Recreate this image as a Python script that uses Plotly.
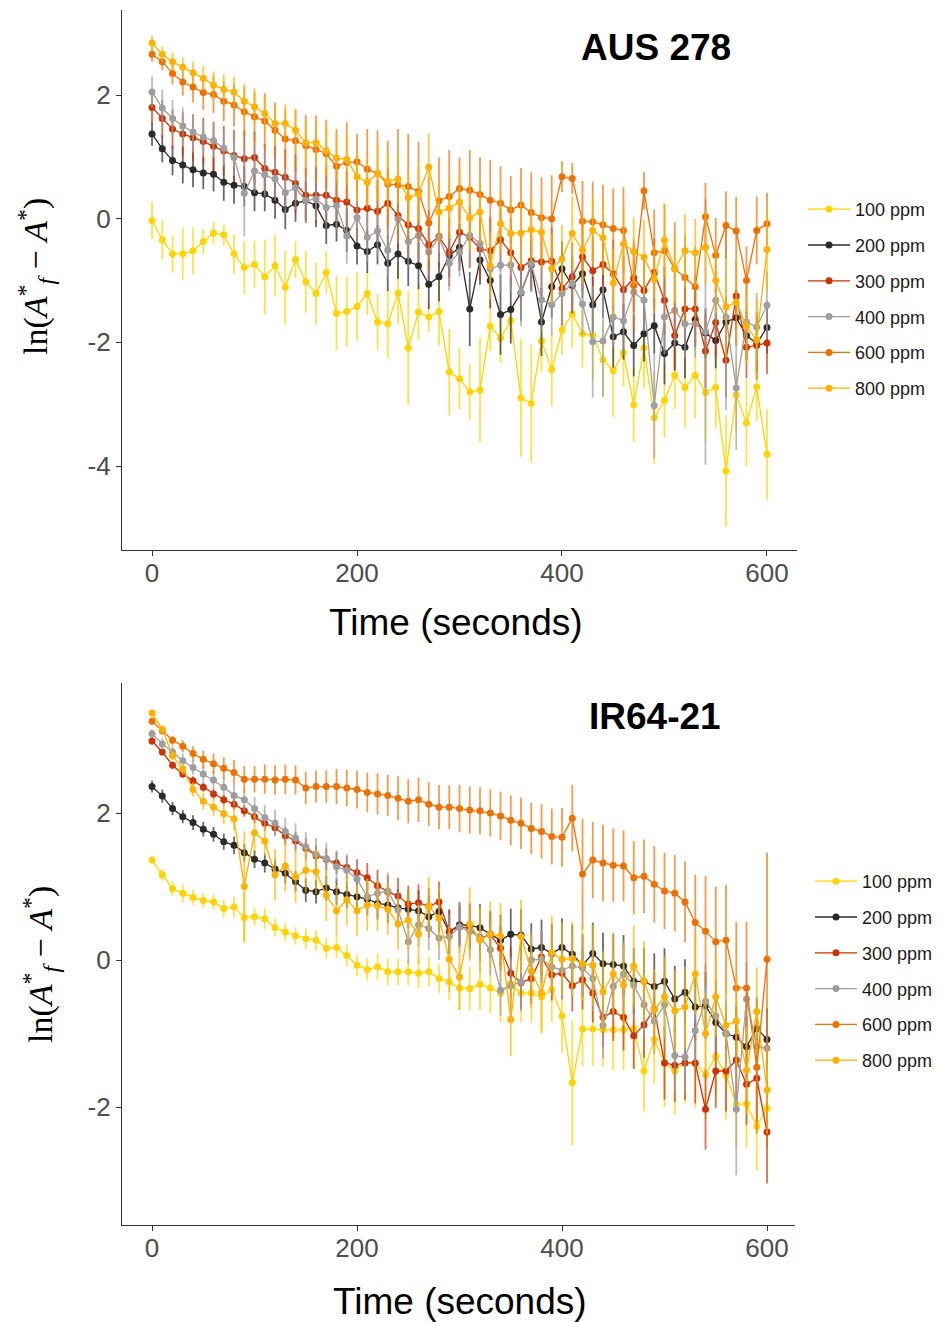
import plotly.graph_objects as go

# ---------------- data ----------------
time_s = list(range(0, 601, 10))
series_names = ["100 ppm", "200 ppm", "300 ppm", "400 ppm", "600 ppm", "800 ppm"]

# AUS 278 (top panel)
top100 = [-0.03, -0.34, -0.57, -0.57, -0.52, -0.37, -0.23, -0.26, -0.57, -0.79,
          -0.74, -0.94, -0.76, -1.11, -0.66, -1.02, -1.21, -0.87, -1.53, -1.50,
          -1.42, -1.21, -1.67, -1.70, -1.20, -2.09, -1.51, -1.59, -1.50, -2.48,
          -2.59, -2.80, -2.77, -1.74, -1.93, -1.65, -2.90, -2.99, -1.98, -2.44,
          -1.80, -1.54, -1.86, -1.89, -2.28, -2.46, -2.17, -3.01, -2.09, -3.22,
          -2.94, -2.53, -2.73, -2.53, -2.81, -2.73, -4.08, -2.85, -3.30, -2.72,
          -3.81]
top200 = [1.37, 1.13, 0.94, 0.87, 0.79, 0.74, 0.72, 0.59, 0.54, 0.52,
          0.42, 0.40, 0.30, 0.15, 0.25, 0.29, 0.21, -0.11, -0.09, -0.19,
          -0.44, -0.53, -0.42, -0.72, -0.57, -0.69, -0.76, -1.06, -0.94, -0.60,
          -0.46, -1.46, -0.67, -1.00, -1.55, -1.47, -1.20, -0.75, -1.67, -1.10,
          -0.81, -1.08, -0.89, -1.39, -1.15, -1.91, -1.83, -2.05, -1.86, -1.73,
          -2.18, -2.01, -2.08, -1.63, -1.85, -1.97, -1.67, -1.60, -1.89, -2.02,
          -1.76]
top300 = [1.80, 1.62, 1.45, 1.37, 1.31, 1.25, 1.17, 1.10, 1.02, 0.97,
          0.99, 0.81, 0.75, 0.67, 0.57, 0.38, 0.38, 0.38, 0.30, 0.27,
          0.14, 0.17, 0.12, 0.25, 0.05, -0.10, -0.16, -0.42, -0.29, -0.54,
          -0.22, -0.30, -0.49, -0.52, -0.34, -0.55, -0.79, -0.68, -0.70, -0.69,
          -1.13, -0.94, -0.62, -0.84, -0.74, -0.89, -1.15, -0.96, -1.16, -0.87,
          -1.32, -1.89, -1.46, -1.46, -2.14, -1.68, -2.29, -1.25, -2.08, -2.05,
          -2.01]
top400 = [2.05, 1.79, 1.62, 1.50, 1.40, 1.32, 1.26, 1.14, 0.99, 0.41,
          0.77, 0.71, 0.64, 0.42, 0.50, 0.29, 0.32, 0.18, 0.21, -0.28,
          0.02, -0.30, -0.20, -0.51, 0.00, -0.37, -0.27, -0.54, -0.30, -0.72,
          -0.54, -0.27, -0.40, -0.81, -0.75, -0.75, -1.19, -0.73, -1.31, -1.39,
          -1.21, -1.05, -1.38, -1.99, -1.98, -1.59, -1.65, -1.19, -1.32, -3.02,
          -1.59, -1.48, -1.70, -1.70, -1.83, -1.32, -1.59, -2.74, -1.67, -1.75,
          -1.40]
top600 = [2.66, 2.54, 2.35, 2.21, 2.13, 2.04, 2.01, 1.90, 1.84, 1.73,
          1.65, 1.58, 1.43, 1.29, 1.26, 1.18, 1.12, 1.05, 0.85, 0.91,
          0.92, 0.80, 0.73, 0.56, 0.55, 0.52, 0.44, -0.07, 0.29, 0.36,
          0.49, 0.46, 0.39, 0.30, 0.25, 0.14, 0.22, 0.10, 0.02, 0.00,
          0.68, 0.65, -0.04, -0.05, -0.10, -0.16, -0.19, -1.08, 0.45, -0.55,
          -0.52, -0.81, -0.95, -1.10, 0.03, -0.59, -0.11, -0.20, -1.00, -0.19,
          -0.08]
top800 = [2.84, 2.66, 2.54, 2.45, 2.36, 2.27, 2.16, 2.09, 2.05, 1.90,
          1.81, 1.70, 1.54, 1.54, 1.43, 1.23, 1.23, 1.10, 0.98, 0.96,
          0.68, 0.59, 0.73, 0.60, 0.64, 0.34, 0.40, 0.83, 0.11, 0.17,
          0.27, 0.01, 0.11, -0.76, -0.08, -0.24, -0.23, -0.18, -0.22, -0.81,
          -0.65, -0.24, -0.51, -0.19, -0.31, -1.04, -0.41, -0.53, -0.62, -0.98,
          -0.35, -0.81, -0.52, -0.55, -0.46, -1.00, -1.43, -1.35, -1.74, -1.96,
          -0.50]

top100_err = [0.30, 0.32, 0.30, 0.42, 0.38, 0.20, 0.18, 0.17, 0.32, 0.43,
              0.38, 0.60, 0.50, 0.60, 0.30, 0.50, 0.50, 0.34, 0.60, 0.56,
              0.55, 0.35, 0.45, 0.55, 0.50, 0.92, 0.45, 0.25, 0.55, 0.70,
              0.50, 0.45, 0.85, 0.40, 0.40, 0.30, 0.95, 0.95, 0.50, 0.60,
              0.40, 0.55, 0.55, 0.70, 0.60, 0.75, 0.55, 0.60, 0.65, 0.75,
              0.60, 0.55, 0.65, 0.70, 0.80, 0.65, 0.90, 0.60, 0.70, 0.55,
              0.73]
top200_err = [0.19, 0.22, 0.24, 0.30, 0.28, 0.26, 0.28, 0.30, 0.30, 0.32,
              0.30, 0.28, 0.30, 0.32, 0.30, 0.32, 0.35, 0.30, 0.28, 0.35,
              0.30, 0.35, 0.32, 0.45, 0.40, 0.40, 0.38, 0.40, 0.40, 0.35,
              0.38, 0.60, 0.40, 0.45, 0.65, 0.55, 0.45, 0.40, 0.55, 0.50,
              0.45, 0.45, 0.40, 0.45, 0.45, 0.50, 0.45, 0.50, 0.45, 0.45,
              0.50, 0.45, 0.50, 0.45, 0.40, 0.45, 0.40, 0.45, 0.40, 0.45,
              0.42]
top300_err = [0.27, 0.30, 0.32, 0.35, 0.38, 0.38, 0.40, 0.40, 0.42, 0.45,
              0.42, 0.40, 0.42, 0.45, 0.48, 0.45, 0.45, 0.45, 0.48, 0.50,
              0.50, 0.50, 0.50, 0.55, 0.55, 0.55, 0.50, 0.55, 0.50, 0.55,
              0.50, 0.50, 0.50, 0.55, 0.50, 0.55, 0.55, 0.50, 0.55, 0.55,
              0.60, 0.55, 0.55, 0.55, 0.50, 0.55, 0.55, 0.55, 0.50, 0.55,
              0.55, 0.55, 0.50, 0.55, 0.60, 0.55, 0.60, 0.55, 0.50, 0.55,
              0.50]
top400_err = [0.25, 0.30, 0.30, 0.30, 0.28, 0.28, 0.28, 0.30, 0.30, 0.70,
              0.35, 0.35, 0.35, 0.35, 0.35, 0.35, 0.35, 0.35, 0.40, 0.45,
              0.40, 0.40, 0.40, 0.45, 0.40, 0.40, 0.40, 0.40, 0.40, 0.45,
              0.40, 0.40, 0.40, 0.45, 0.45, 0.45, 0.55, 0.45, 0.50, 0.50,
              0.50, 0.45, 0.50, 0.90, 0.90, 0.50, 0.55, 0.55, 0.50, 0.85,
              0.60, 0.60, 0.55, 0.55, 2.15, 0.60, 1.50, 1.00, 0.60, 0.55,
              0.55]
top600_err = [0.12, 0.14, 0.18, 0.22, 0.25, 0.28, 0.30, 0.32, 0.35, 0.40,
              0.40, 0.45, 0.45, 0.48, 0.50, 0.50, 0.55, 0.55, 0.60, 0.65,
              0.45, 0.65, 0.70, 0.70, 0.90, 0.85, 0.80, 0.75, 0.70, 0.75,
              0.50, 0.65, 0.60, 0.65, 0.60, 0.55, 0.60, 0.65, 0.65, 0.70,
              0.25, 0.25, 0.65, 0.65, 0.65, 0.65, 0.70, 0.75, 0.30, 0.70,
              0.75, 0.75, 0.70, 0.65, 0.55, 0.60, 0.55, 0.55, 0.55, 0.55,
              0.50]
top800_err = [0.12, 0.12, 0.14, 0.16, 0.18, 0.20, 0.22, 0.24, 0.25, 0.28,
              0.30, 0.30, 0.32, 0.32, 0.35, 0.35, 0.38, 0.40, 0.40, 0.42,
              0.40, 0.40, 0.45, 0.45, 0.40, 0.45, 0.45, 0.55, 0.50, 0.50,
              0.50, 0.55, 0.50, 0.55, 0.50, 0.55, 0.55, 0.50, 0.55, 0.55,
              0.55, 0.60, 0.55, 0.55, 0.60, 0.55, 0.60, 0.55, 0.60, 0.55,
              0.60, 0.55, 0.60, 0.55, 0.60, 0.55, 0.80, 0.70, 0.60, 0.65,
              0.65]

# IR64-21 (bottom panel)
bot100 = [1.36, 1.16, 0.97, 0.91, 0.85, 0.81, 0.79, 0.70, 0.72, 0.58,
          0.59, 0.56, 0.44, 0.38, 0.33, 0.29, 0.27, 0.16, 0.17, 0.06,
          -0.07, -0.13, -0.09, -0.16, -0.16, -0.16, -0.18, -0.16, -0.25, -0.30,
          -0.38, -0.39, -0.33, -0.38, -0.45, -0.32, -0.45, -0.45, -0.50, -0.40,
          -0.76, -1.67, -0.94, -0.94, -0.95, -0.95, -0.95, -0.93, -1.51, -1.08,
          -1.40, -1.51, -1.40, -1.41, -1.56, -1.31, -1.57, -1.96, -1.96, -2.26,
          -2.02]
bot200 = [2.36, 2.23, 2.06, 1.95, 1.87, 1.78, 1.71, 1.61, 1.56, 1.46,
          1.37, 1.32, 1.24, 1.18, 1.07, 0.95, 0.93, 0.98, 0.93, 0.89,
          0.86, 0.83, 0.77, 0.75, 0.71, 0.69, 0.67, 0.59, 0.66, 0.38,
          0.48, 0.47, 0.44, 0.35, 0.27, 0.35, 0.34, 0.15, 0.17, 0.09,
          0.17, 0.08, -0.07, 0.09, -0.05, -0.06, -0.08, -0.29, -0.29, -0.36,
          -0.29, -0.53, -0.44, -0.64, -0.62, -0.85, -1.00, -1.05, -1.18, -0.93,
          -1.08]
bot300 = [2.98, 2.83, 2.65, 2.53, 2.44, 2.35, 2.26, 2.18, 2.12, 2.03,
          1.95, 1.86, 1.80, 1.69, 1.62, 1.52, 1.42, 1.37, 1.32, 1.26,
          1.19, 1.12, 1.01, 0.93, 0.87, 0.76, 0.78, 0.73, 0.79, 0.39,
          0.45, 0.43, 0.29, 0.35, 0.16, -0.18, -0.31, -0.25, 0.04, -0.20,
          -0.18, -0.35, -0.27, -0.45, -0.78, -0.70, -0.78, -1.03, -0.88, -0.67,
          -1.40, -1.43, -1.40, -1.40, -2.03, -1.51, -1.51, -1.36, -1.69, -1.61,
          -2.34]
bot400 = [3.08, 2.94, 2.83, 2.71, 2.62, 2.53, 2.45, 2.35, 2.24, 2.18,
          2.06, 1.94, 1.86, 1.75, 1.66, 1.54, 1.44, 1.38, 1.27, 1.22,
          1.10, 0.86, 0.91, 0.94, 0.68, 0.25, 0.48, 0.43, 0.30, 0.32,
          0.45, 0.39, 0.32, 0.14, -0.41, -0.35, -0.30, 0.00, 0.01, -0.09,
          -0.14, -0.08, -0.11, -0.25, -0.89, -0.36, -0.19, -0.34, -0.61, -0.83,
          -0.61, -1.30, -1.32, -0.96, -0.56, -0.76, -1.00, -2.03, -0.53, -1.18,
          -1.20]
bot600 = [3.25, 3.12, 2.99, 2.91, 2.81, 2.73, 2.67, 2.61, 2.55, 2.46,
          2.46, 2.46, 2.45, 2.46, 2.45, 2.34, 2.36, 2.36, 2.36, 2.34,
          2.32, 2.28, 2.26, 2.24, 2.20, 2.16, 2.18, 2.12, 2.08, 2.08,
          2.06, 2.04, 2.03, 2.00, 1.96, 1.90, 1.86, 1.79, 1.75, 1.68,
          1.67, 1.93, 1.17, 1.36, 1.32, 1.29, 1.28, 1.12, 1.14, 1.03,
          0.94, 0.91, 0.79, 0.51, 0.39, 0.25, 0.27, -0.38, -0.38, -1.46,
          0.01]
bot800 = [3.36, 3.14, 2.78, 2.60, 2.32, 2.16, 2.08, 1.99, 1.92, 1.00,
          1.73, 1.62, 1.16, 1.28, 1.13, 1.22, 1.20, 0.88, 0.67, 0.82,
          0.67, 0.75, 0.74, 0.69, 0.49, 0.54, 0.35, 0.73, 0.57, 0.01,
          -0.23, 0.49, 0.27, 0.35, 0.33, -0.81, 0.32, -0.15, -0.45, 0.10,
          0.01, 0.02, -0.05, -0.07, -0.43, -0.19, -0.34, -0.08, -0.29, -0.68,
          -0.50, -0.69, -0.64, -0.19, -1.00, -0.50, -0.89, -0.83, -1.50, -0.70,
          -1.77]

bot100_err = [0.05, 0.08, 0.10, 0.12, 0.10, 0.10, 0.10, 0.12, 0.14, 0.35,
              0.12, 0.14, 0.12, 0.12, 0.12, 0.14, 0.14, 0.14, 0.14, 0.15,
              0.15, 0.15, 0.18, 0.18, 0.18, 0.18, 0.20, 0.20, 0.20, 0.25,
              0.30, 0.30, 0.35, 0.35, 0.40, 0.40, 0.40, 0.40, 0.45, 0.45,
              0.50, 0.85, 0.50, 0.50, 0.50, 0.55, 0.55, 0.55, 0.55, 0.60,
              0.60, 0.60, 0.55, 0.60, 0.60, 0.55, 0.60, 0.60, 0.60, 0.60,
              0.55]
bot200_err = [0.08, 0.09, 0.09, 0.09, 0.10, 0.10, 0.10, 0.11, 0.12, 0.12,
              0.12, 0.13, 0.13, 0.14, 0.14, 0.16, 0.16, 0.17, 0.18, 0.18,
              0.20, 0.22, 0.22, 0.25, 0.25, 0.25, 0.28, 0.28, 0.28, 0.30,
              0.30, 0.30, 0.32, 0.32, 0.35, 0.35, 0.35, 0.35, 0.38, 0.40,
              0.40, 0.40, 0.42, 0.42, 0.42, 0.42, 0.42, 0.45, 0.45, 0.45,
              0.45, 0.45, 0.45, 0.45, 0.45, 0.42, 0.42, 0.42, 0.42, 0.42,
              0.42]
bot300_err = [0.05, 0.05, 0.05, 0.05, 0.06, 0.06, 0.07, 0.07, 0.08, 0.08,
              0.09, 0.10, 0.10, 0.12, 0.12, 0.14, 0.15, 0.15, 0.15, 0.16,
              0.18, 0.20, 0.22, 0.22, 0.25, 0.25, 0.25, 0.25, 0.28, 0.30,
              0.28, 0.30, 0.30, 0.30, 0.30, 0.35, 0.35, 0.35, 0.35, 0.35,
              0.35, 0.35, 0.40, 0.40, 0.40, 0.40, 0.45, 0.45, 0.45, 0.50,
              0.50, 0.50, 0.50, 0.55, 0.55, 0.50, 0.55, 0.55, 0.55, 0.60,
              0.70]
bot400_err = [0.06, 0.08, 0.09, 0.10, 0.10, 0.12, 0.12, 0.13, 0.14, 0.15,
              0.16, 0.17, 0.18, 0.18, 0.20, 0.20, 0.22, 0.22, 0.22, 0.22,
              0.22, 0.25, 0.25, 0.25, 0.25, 0.30, 0.30, 0.30, 0.30, 0.30,
              0.35, 0.35, 0.35, 0.35, 0.35, 0.40, 0.40, 0.40, 0.40, 0.40,
              0.40, 0.40, 0.40, 0.45, 0.45, 0.45, 0.45, 0.45, 0.45, 0.45,
              0.45, 0.50, 0.50, 0.50, 0.50, 0.50, 0.50, 0.90, 0.50, 0.50,
              0.50]
bot600_err = [0.05, 0.05, 0.06, 0.08, 0.10, 0.12, 0.14, 0.15, 0.17, 0.18,
              0.18, 0.20, 0.20, 0.20, 0.20, 0.22, 0.22, 0.22, 0.24, 0.25,
              0.26, 0.27, 0.28, 0.28, 0.30, 0.30, 0.30, 0.30, 0.30, 0.30,
              0.32, 0.32, 0.32, 0.32, 0.33, 0.34, 0.35, 0.35, 0.37, 0.38,
              0.40, 0.45, 0.75, 0.52, 0.52, 0.50, 0.48, 0.50, 0.50, 0.52,
              0.52, 0.52, 0.55, 0.65, 0.75, 0.75, 0.75, 0.90, 0.90, 0.90,
              1.45]
bot800_err = [0.05, 0.05, 0.06, 0.08, 0.10, 0.12, 0.12, 0.14, 0.16, 0.75,
              0.25, 0.20, 0.35, 0.35, 0.35, 0.30, 0.30, 0.35, 0.35, 0.35,
              0.35, 0.35, 0.35, 0.35, 0.35, 0.40, 0.40, 0.40, 0.40, 0.45,
              0.45, 0.50, 0.45, 0.45, 0.45, 0.50, 0.50, 0.50, 0.55, 0.50,
              0.50, 0.50, 0.50, 0.55, 0.55, 0.55, 0.55, 0.55, 0.55, 0.55,
              0.55, 0.55, 0.55, 0.55, 0.55, 0.55, 0.60, 0.60, 0.60, 0.60,
              0.60]

x_ticks = [0, 200, 400, 600]
top_y_ticks = [-4, -2, 0, 2]
bot_y_ticks = [-2, 0, 2]

# ---------------- style ----------------
colors = ["#FFD400", "#2A2A2A", "#CC3300", "#9E9E9E", "#EE7000", "#FFB300"]
err_colors = ["rgba(255,212,0,0.7)", "rgba(42,42,42,0.7)", "rgba(204,51,0,0.7)",
              "rgba(158,158,158,0.7)", "rgba(238,112,0,0.7)", "rgba(255,179,0,0.7)"]

top_vals = [top100, top200, top300, top400, top600, top800]
top_errs = [top100_err, top200_err, top300_err, top400_err, top600_err, top800_err]
bot_vals = [bot100, bot200, bot300, bot400, bot600, bot800]
bot_errs = [bot100_err, bot200_err, bot300_err, bot400_err, bot600_err, bot800_err]

fig = go.Figure()

def add_panel(vals, errs, xa, ya, legend_name, prefix):
    for i, name in enumerate(series_names):
        fig.add_trace(go.Scatter(
            x=time_s, y=vals[i], name=name, mode="lines+markers",
            xaxis=xa, yaxis=ya, legend=legend_name,
            legendgroup=prefix + str(i),
            line=dict(color=colors[i], width=1.3),
            marker=dict(color=colors[i], size=7),
            error_y=dict(type="data", array=errs[i], visible=True,
                         thickness=1.8, width=0, color=err_colors[i]),
            hoverinfo="skip",
        ))

add_panel(top_vals, top_errs, "x", "y", "legend", "t")
add_panel(bot_vals, bot_errs, "x2", "y2", "legend2", "b")

W, H = 942, 1322
tickfont = dict(family="Liberation Sans, Arial, sans-serif", size=26, color="#4d4d4d")
axis_common = dict(showgrid=False, zeroline=False, showline=True, linecolor="#333333",
                   linewidth=1.2, ticks="outside", ticklen=5, tickcolor="#333333",
                   tickwidth=1.2, tickfont=tickfont)

def ytext(v):
    return [str(t) for t in v]

legend_common = dict(xanchor="left", yanchor="top", bgcolor="rgba(0,0,0,0)",
                     font=dict(family="Liberation Sans, Arial, sans-serif", size=18, color="#1a1a1a"),
                     traceorder="grouped", tracegroupgap=9.4, itemwidth=42)

fig.update_layout(
    width=W, height=H, margin=dict(l=0, r=0, t=0, b=0),
    paper_bgcolor="white", plot_bgcolor="white", showlegend=True,
    xaxis=dict(domain=[122 / W, 797 / W], range=[-29.3, 629.3], anchor="y",
               tickvals=x_ticks, ticklabelstandoff=-5, **axis_common),
    yaxis=dict(domain=[1 - 550 / H, 1 - 10 / H], range=[-5.358, 3.375], anchor="x",
               tickvals=top_y_ticks, ticktext=ytext(top_y_ticks), **axis_common),
    xaxis2=dict(domain=[122 / W, 795 / W], range=[-29.3, 627.3], anchor="y2",
                tickvals=x_ticks, ticklabelstandoff=-5, **axis_common),
    yaxis2=dict(domain=[1 - 1225 / H, 1 - 683 / H], range=[-3.605, 3.769], anchor="x2",
                tickvals=bot_y_ticks, ticktext=ytext(bot_y_ticks), **axis_common),
    legend=dict(x=803 / W, y=1 - 191 / H, **legend_common),
    legend2=dict(x=810 / W, y=1 - 863 / H, **legend_common),
)

title_font = dict(family="Liberation Sans, Arial, sans-serif", size=37, color="black")
ylab_font = dict(family="Liberation Serif, Times New Roman, serif", size=34, color="black")
ylab = "ln(<i>A</i><sup>*</sup><sub><i>f</i></sub> \u2212 <i>A</i><sup>*</sup>)"

annotations = [
    dict(text="<b>AUS 278</b>", x=656 / W, y=1 - 47 / H, font=title_font),
    dict(text="<b>IR64-21</b>", x=655 / W, y=1 - 716 / H, font=title_font),
    dict(text="Time (seconds)", x=456 / W, y=1 - 623 / H, font=title_font),
    dict(text="Time (seconds)", x=460 / W, y=1 - 1301 / H, font=title_font),
    dict(text=ylab, x=35 / W, y=1 - 277 / H, font=ylab_font, textangle=-90),
    dict(text=ylab, x=40 / W, y=1 - 965 / H, font=ylab_font, textangle=-90),
]
for a in annotations:
    a.update(xref="paper", yref="paper", xanchor="center", yanchor="middle", showarrow=False)
fig.update_layout(annotations=annotations)

fig.write_html("out.html")
